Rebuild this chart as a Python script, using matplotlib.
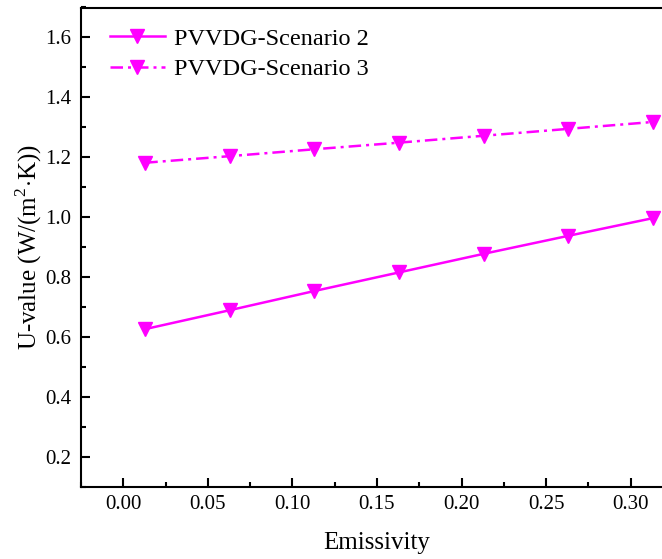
import matplotlib
matplotlib.use("Agg")
import matplotlib.pyplot as plt
from matplotlib.ticker import MultipleLocator

plt.rcParams['font.family'] = ['Liberation Serif', 'DejaVu Serif']
plt.rcParams['mathtext.fontset'] = 'custom'
plt.rcParams['mathtext.rm'] = 'Liberation Serif'

emissivity = [0.013, 0.063, 0.113, 0.163, 0.213, 0.263, 0.313]
u_scenario2 = [0.627, 0.690, 0.754, 0.816, 0.878, 0.938, 0.997]
u_scenario3 = [1.182, 1.204, 1.227, 1.249, 1.272, 1.295, 1.318]
labels = ["PVVDG-Scenario 2", "PVVDG-Scenario 3"]

color = "#FF00FF"
fig = plt.figure(figsize=(6.62, 5.59), dpi=100)
ax = fig.add_axes([81/662, 1 - 487/559, (673 - 81)/662, (487 - 7.5)/559])

ax.plot(emissivity, u_scenario2, color=color, lw=1.8, marker='v', ms=10,
        label=labels[0])
ax.plot(emissivity, u_scenario3, color=color, lw=1.8, marker='v', ms=10,
        linestyle=(0, (5, 2.0, 1.2, 2.0)), label=labels[1])

ax.set_xlim(-0.025, 0.325)
ax.set_ylim(0.1, 1.7)
ax.xaxis.set_minor_locator(MultipleLocator(0.025))
ax.yaxis.set_minor_locator(MultipleLocator(0.1))
ax.set_xticks([0.0, 0.05, 0.10, 0.15, 0.20, 0.25, 0.30])
ax.set_xticklabels(["0.00", "0.05", "0.10", "0.15", "0.20", "0.25", "0.30"])
ax.set_yticks([0.2, 0.4, 0.6, 0.8, 1.0, 1.2, 1.4, 1.6])
ax.set_yticklabels(["0.2", "0.4", "0.6", "0.8", "1.0", "1.2", "1.4", "1.6"])

ax.tick_params(axis='both', which='major', direction='in', length=6.5, width=1.5,
               labelsize=15)
ax.tick_params(axis='x', which='major', pad=6)
ax.tick_params(axis='y', which='major', pad=7)
ax.tick_params(axis='both', which='minor', direction='in', length=3.5, width=1.5)
for side in ['left', 'bottom', 'top', 'right']:
    ax.spines[side].set_linewidth(1.5)

ax.set_xlabel("Emissivity", fontsize=18, labelpad=13)
ax.set_ylabel(r"U-value (W/(m$^2$$\cdot$K))", fontsize=18, labelpad=1)

ax.legend(loc='upper left', bbox_to_anchor=(0.02, 0.993), frameon=False,
          fontsize=17.5, handlelength=2.25, handletextpad=0.37, labelspacing=0.35,
          borderaxespad=0.3)

fig.savefig("out.png", dpi=100)
